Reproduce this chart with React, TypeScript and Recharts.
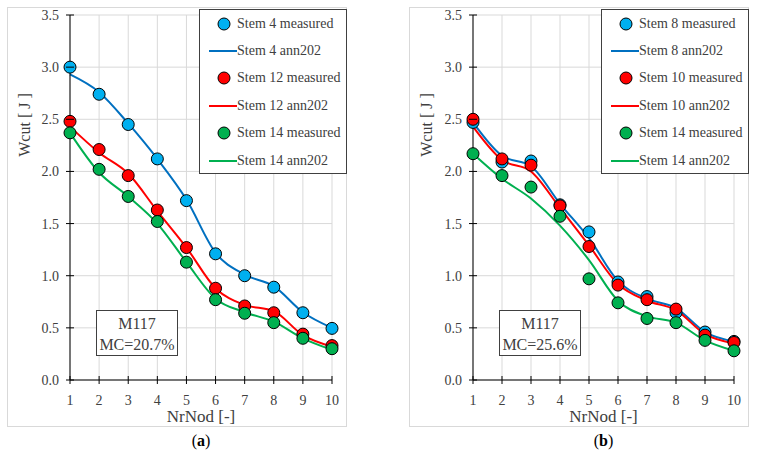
import { ComposedChart, Line, XAxis, YAxis, CartesianGrid } from 'recharts';

const nodes = [1, 2, 3, 4, 5, 6, 7, 8, 9, 10];
const yTicks = [0, 0.5, 1, 1.5, 2, 2.5, 3, 3.5];

// panel (a), MC = 20.7%
const stem4Measured = [3.0, 2.74, 2.45, 2.12, 1.72, 1.21, 1.0, 0.89, 0.645, 0.495];
const stem4Ann = [2.93, 2.76, 2.46, 2.12, 1.73, 1.22, 1.01, 0.9, 0.65, 0.5];
const stem12Measured = [2.48, 2.21, 1.96, 1.63, 1.27, 0.88, 0.71, 0.645, 0.44, 0.33];
const stem12Ann = [2.43, 2.18, 1.98, 1.62, 1.27, 0.88, 0.72, 0.66, 0.43, 0.32];
const stem14aMeasured = [2.37, 2.02, 1.76, 1.52, 1.13, 0.77, 0.64, 0.55, 0.4, 0.3];
const stem14aAnn = [2.37, 1.99, 1.76, 1.5, 1.13, 0.78, 0.65, 0.56, 0.4, 0.29];

// panel (b), MC = 25.6%
const stem8Measured = [2.47, 2.09, 2.1, 1.68, 1.42, 0.94, 0.8, 0.645, 0.46, 0.37];
const stem8Ann = [2.47, 2.15, 2.05, 1.69, 1.36, 0.95, 0.78, 0.69, 0.46, 0.37];
const stem10Measured = [2.5, 2.12, 2.06, 1.67, 1.28, 0.91, 0.77, 0.68, 0.43, 0.36];
const stem10Ann = [2.43, 2.11, 2.0, 1.65, 1.29, 0.92, 0.76, 0.67, 0.44, 0.35];
const stem14bMeasured = [2.17, 1.96, 1.85, 1.57, 0.97, 0.74, 0.59, 0.55, 0.38, 0.28];
const stem14bAnn = [2.17, 1.93, 1.74, 1.48, 1.15, 0.76, 0.61, 0.55, 0.38, 0.28];

const FONT = '"Liberation Serif", "Times New Roman", serif';
const LINE_COLORS = ['#0070c0', '#ff0000', '#00b050'];
const DOT_COLORS = ['#00b0f0', '#ff0000', '#00b050'];

type Series = { name: string; measured: number[]; ann: number[] };

const buildRows = (series: Series[]) =>
  nodes.map((n, i) => {
    const row: Record<string, number> = { node: n };
    series.forEach((s, k) => {
      row[`m${k}`] = s.measured[i];
      row[`a${k}`] = s.ann[i];
    });
    return row;
  });

// cross-style tick marks, like the spreadsheet default
const YTick = (props: any) => {
  const { x, y, payload } = props;
  return (
    <g>
      <line x1={x - 4} x2={x + 4} y1={y} y2={y} stroke="#000" />
      <text x={x - 11} y={y} dy={5} textAnchor="end" fontSize={14} fontFamily={FONT} fill="#404040">
        {payload.value.toFixed(1)}
      </text>
    </g>
  );
};

const XTick = (props: any) => {
  const { x, y, payload } = props;
  return (
    <g>
      <line x1={x} x2={x} y1={y - 4} y2={y + 4} stroke="#000" />
      <text x={x} y={y + 25} textAnchor="middle" fontSize={14} fontFamily={FONT} fill="#404040">
        {payload.value}
      </text>
    </g>
  );
};

function LegendBox({ series, left }: { series: Series[]; left: number }) {
  const rows: { label: string; kind: 'dot' | 'line'; k: number }[] = [];
  series.forEach((s, k) => {
    rows.push({ label: `${s.name} measured`, kind: 'dot', k });
    rows.push({ label: `${s.name} ann202`, kind: 'line', k });
  });
  return (
    <div
      style={{
        position: 'absolute',
        left,
        top: 2,
        width: 148,
        height: 165,
        border: '1px solid #404040',
        background: '#fff',
        boxSizing: 'border-box',
        fontFamily: FONT,
        fontSize: 14,
        color: '#404040',
        paddingTop: 0,
      }}
    >
      {rows.map((r) => (
        <div key={r.label} style={{ height: 27.4, display: 'flex', alignItems: 'center' }}>
          <svg width={36} height={14} style={{ marginLeft: 1, flex: 'none' }}>
            {r.kind === 'dot' ? (
              <circle cx={23} cy={7} r={6} fill={DOT_COLORS[r.k]} stroke="#000" />
            ) : (
              <line x1={8} x2={36} y1={7} y2={7} stroke={LINE_COLORS[r.k]} strokeWidth={2} />
            )}
          </svg>
          <span style={{ whiteSpace: 'nowrap' }}>{r.label}</span>
        </div>
      ))}
    </div>
  );
}

type PanelProps = {
  left: number;
  series: Series[];
  mc: string;
  caption: string;
  axisLeft: number;
  marginRight: number;
};

function Panel({ left, series, mc, caption, axisLeft, marginRight }: PanelProps) {
  const rows = buildRows(series);
  const width = 340;
  const height = 420;
  return (
    <div style={{ position: 'absolute', left, top: 7, width, height }}>
      <div
        style={{
          position: 'absolute',
          inset: 0,
          border: '1px solid #d9d9d9',
          boxSizing: 'border-box',
        }}
      />
      <ComposedChart
        width={width}
        height={height}
        data={rows}
        margin={{ top: 8, right: marginRight, bottom: 0, left: 0 }}
      >
        <CartesianGrid stroke="#d9d9d9" strokeWidth={1} />
        <XAxis
          dataKey="node"
          type="number"
          domain={[1, 10]}
          ticks={nodes}
          height={47}
          tickSize={0}
          tickMargin={0}
          tickLine={false}
          axisLine={{ stroke: '#000' }}
          tick={<XTick />}
          interval={0}
        />
        <YAxis
          type="number"
          domain={[0, 3.5]}
          ticks={yTicks}
          width={axisLeft}
          tickSize={0}
          tickMargin={0}
          tickLine={false}
          axisLine={{ stroke: '#000' }}
          tick={<YTick />}
          interval={0}
        />
        {series.map((s, k) => (
          <Line
            key={`a${k}`}
            dataKey={`a${k}`}
            type="monotone"
            stroke={LINE_COLORS[k]}
            strokeWidth={2}
            dot={false}
            activeDot={false}
            isAnimationActive={false}
          />
        ))}
        {series.map((s, k) => (
          <Line
            key={`m${k}`}
            dataKey={`m${k}`}
            stroke="none"
            dot={{ r: 6, fill: DOT_COLORS[k], stroke: '#000', strokeWidth: 1 }}
            activeDot={false}
            isAnimationActive={false}
          />
        ))}
      </ComposedChart>
      <LegendBox series={series} left={width - 148} />
      <div
        style={{
          position: 'absolute',
          left: 18 - 40,
          top: 118 - 10,
          width: 80,
          height: 20,
          transform: 'rotate(-90deg)',
          textAlign: 'center',
          fontFamily: FONT,
          fontSize: 16,
          lineHeight: '20px',
          color: '#404040',
          whiteSpace: 'nowrap',
        }}
      >
        Wcut [ J ]
      </div>
      <div
        style={{
          position: 'absolute',
          left: axisLeft,
          width: width - axisLeft - marginRight,
          top: 400,
          textAlign: 'center',
          fontFamily: FONT,
          fontSize: 17,
          lineHeight: '20px',
          color: '#404040',
        }}
      >
        NrNod [-]
      </div>
      <div
        style={{
          position: 'absolute',
          left: axisLeft + 26,
          top: 303,
          width: 82,
          height: 46,
          border: '1px solid #404040',
          boxSizing: 'border-box',
          background: '#fff',
          fontFamily: FONT,
          fontSize: 16,
          lineHeight: '21px',
          textAlign: 'center',
          color: '#404040',
          paddingTop: 2,
        }}
      >
        <div>M117</div>
        <div>MC={mc}</div>
      </div>
      <div
        style={{
          position: 'absolute',
          left: axisLeft,
          width: width - axisLeft - marginRight,
          top: 424,
          textAlign: 'center',
          fontFamily: FONT,
          fontSize: 16,
          lineHeight: '20px',
          color: '#000',
        }}
      >
        (<b>{caption}</b>)
      </div>
    </div>
  );
}

export default function App() {
  const seriesA: Series[] = [
    { name: 'Stem 4', measured: stem4Measured, ann: stem4Ann },
    { name: 'Stem 12', measured: stem12Measured, ann: stem12Ann },
    { name: 'Stem 14', measured: stem14aMeasured, ann: stem14aAnn },
  ];
  const seriesB: Series[] = [
    { name: 'Stem 8', measured: stem8Measured, ann: stem8Ann },
    { name: 'Stem 10', measured: stem10Measured, ann: stem10Ann },
    { name: 'Stem 14', measured: stem14bMeasured, ann: stem14bAnn },
  ];
  return (
    <div style={{ position: 'absolute', left: 0, top: 0, width: 757, height: 454, background: '#fff' }}>
      <Panel left={7} series={seriesA} mc="20.7%" caption="a" axisLeft={63} marginRight={15} />
      <Panel left={409} series={seriesB} mc="25.6%" caption="b" axisLeft={64} marginRight={15} />
    </div>
  );
}
